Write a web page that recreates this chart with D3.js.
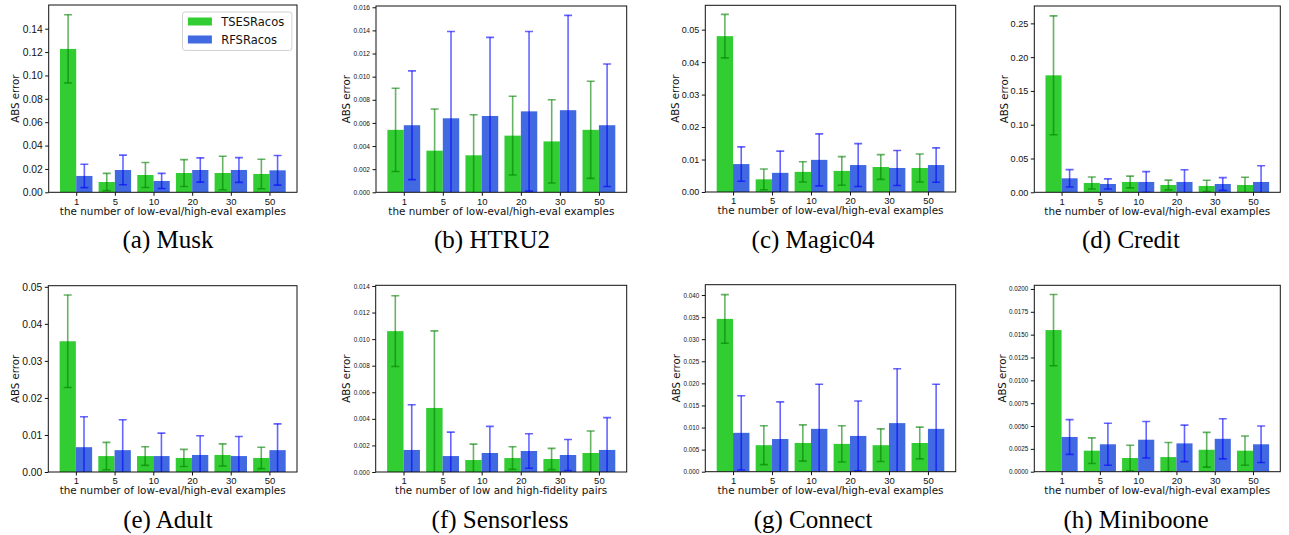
<!DOCTYPE html>
<html>
<head>
<meta charset="utf-8">
<script src="https://cdn.jsdelivr.net/npm/d3@7"></script>
<style>
  body { margin: 0; background: #fff; }
  svg { display: block; font-family: "DejaVu Sans", sans-serif; }
</style>
</head>
<body>
<svg id="chart" width="1289" height="535"></svg>
<script>
var groups = ["1", "5", "10", "20", "30", "50"];
var seriesNames = ["TSESRacos", "RFSRacos"];

// (a) Musk
var muskTSE    = [0.1227, 0.0088, 0.0148, 0.0165, 0.0165, 0.0157];
var muskTSEErr = [0.0292, 0.0074, 0.0107, 0.0115, 0.0143, 0.0126];
var muskRFS    = [0.0140, 0.0191, 0.0097, 0.0191, 0.0191, 0.0188];
var muskRFSErr = [0.0100, 0.0127, 0.0065, 0.0104, 0.0106, 0.0127];
var muskTicks  = [0, 0.02, 0.04, 0.06, 0.08, 0.10, 0.12, 0.14];

// (b) HTRU2
var htruTSE    = [0.0054, 0.0036, 0.0032, 0.0049, 0.0044, 0.0054];
var htruTSEErr = [0.0036, 0.0036, 0.0035, 0.0034, 0.0036, 0.0042];
var htruRFS    = [0.0058, 0.0064, 0.0066, 0.0070, 0.0071, 0.0058];
var htruRFSErr = [0.0047, 0.0075, 0.0068, 0.0069, 0.0082, 0.0053];
var htruTicks  = [0, 0.002, 0.004, 0.006, 0.008, 0.010, 0.012, 0.014, 0.016];

// (c) Magic04
var magicTSE    = [0.0480, 0.0039, 0.0062, 0.0065, 0.0077, 0.0074];
var magicTSEErr = [0.0067, 0.0032, 0.0031, 0.0044, 0.0038, 0.0043];
var magicRFS    = [0.0086, 0.0059, 0.0099, 0.0083, 0.0074, 0.0083];
var magicRFSErr = [0.0053, 0.0067, 0.0080, 0.0066, 0.0054, 0.0053];
var magicTicks  = [0, 0.01, 0.02, 0.03, 0.04, 0.05];

// (d) Credit
var creditTSE    = [0.1731, 0.0138, 0.0153, 0.0108, 0.0094, 0.0108];
var creditTSEErr = [0.0880, 0.0089, 0.0087, 0.0072, 0.0084, 0.0114];
var creditRFS    = [0.0207, 0.0123, 0.0153, 0.0153, 0.0123, 0.0153];
var creditRFSErr = [0.0128, 0.0075, 0.0153, 0.0180, 0.0094, 0.0240];
var creditTicks  = [0, 0.05, 0.10, 0.15, 0.20, 0.25];

// (e) Adult
var adultTSE    = [0.0353, 0.0043, 0.0043, 0.0038, 0.0046, 0.0038];
var adultTSEErr = [0.0125, 0.0037, 0.0025, 0.0023, 0.0030, 0.0029];
var adultRFS    = [0.0067, 0.0059, 0.0043, 0.0046, 0.0043, 0.0059];
var adultRFSErr = [0.0082, 0.0082, 0.0062, 0.0052, 0.0053, 0.0071];
var adultTicks  = [0, 0.01, 0.02, 0.03, 0.04, 0.05];

// (f) Sensorless
var sensTSE    = [0.0106, 0.00482, 0.0009, 0.00105, 0.00098, 0.00143];
var sensTSEErr = [0.00266, 0.0058, 0.0012, 0.00085, 0.0008, 0.00166];
var sensRFS    = [0.00166, 0.0012, 0.00143, 0.00158, 0.00128, 0.00166];
var sensRFSErr = [0.0034, 0.0018, 0.0020, 0.0013, 0.00117, 0.00243];
var sensTicks  = [0, 0.002, 0.004, 0.006, 0.008, 0.010, 0.012, 0.014];

// (g) Connect
var connTSE    = [0.0346, 0.0060, 0.0065, 0.0063, 0.0060, 0.0065];
var connTSEErr = [0.0055, 0.0044, 0.0041, 0.0041, 0.0037, 0.0036];
var connRFS    = [0.0088, 0.0074, 0.0097, 0.0081, 0.0110, 0.0097];
var connRFSErr = [0.0084, 0.0084, 0.0101, 0.0079, 0.0123, 0.0101];
var connTicks  = [0, 0.005, 0.010, 0.015, 0.020, 0.025, 0.030, 0.035, 0.040];

// (h) Miniboone
var miniTSE    = [0.0155, 0.0023, 0.0015, 0.0016, 0.0024, 0.0023];
var miniTSEErr = [0.0039, 0.0014, 0.0014, 0.0016, 0.0019, 0.0016];
var miniRFS    = [0.0038, 0.0030, 0.0035, 0.0031, 0.0036, 0.0030];
var miniRFSErr = [0.0019, 0.0023, 0.0020, 0.0020, 0.0022, 0.0020];
var miniTicks  = [0, 0.0025, 0.0050, 0.0075, 0.0100, 0.0125, 0.0150, 0.0175, 0.0200];

var xlabelEval = "the number of low-eval/high-eval examples";
var xlabelPairs = "the number of low and high-fidelity pairs";

var panels = [
  { cap: "(a) Musk", tse: muskTSE, tseErr: muskTSEErr, rfs: muskRFS, rfsErr: muskRFSErr,
    ticks: muskTicks, fmt: ".2f", ymax: 0.1603, tickFont: 10.3, xlabel: xlabelEval,
    box: [48.7, 5, 297, 192.3], capX: 168, capY: 248, legend: true },
  { cap: "(b) HTRU2", tse: htruTSE, tseErr: htruTSEErr, rfs: htruRFS, rfsErr: htruRFSErr,
    ticks: htruTicks, fmt: ".3f", ymax: 0.01611, tickFont: 6.6, xlabel: xlabelEval,
    box: [376, 6, 626.7, 192.3], capX: 492, capY: 248 },
  { cap: "(c) Magic04", tse: magicTSE, tseErr: magicTSEErr, rfs: magicRFS, rfsErr: magicRFSErr,
    ticks: magicTicks, fmt: ".2f", ymax: 0.0575, tickFont: 9, xlabel: xlabelEval,
    box: [705.3, 5.3, 955.7, 192], capX: 813, capY: 248 },
  { cap: "(d) Credit", tse: creditTSE, tseErr: creditTSEErr, rfs: creditRFS, rfsErr: creditRFSErr,
    ticks: creditTicks, fmt: ".2f", ymax: 0.2757, tickFont: 9.1, xlabel: xlabelEval,
    box: [1034.3, 6, 1280.3, 192.3], capX: 1131, capY: 248 },
  { cap: "(e) Adult", tse: adultTSE, tseErr: adultTSEErr, rfs: adultRFS, rfsErr: adultRFSErr,
    ticks: adultTicks, fmt: ".2f", ymax: 0.0503, tickFont: 10.3, xlabel: xlabelEval,
    box: [48.3, 285.7, 297, 472], capX: 168, capY: 528 },
  { cap: "(f) Sensorless", tse: sensTSE, tseErr: sensTSEErr, rfs: sensRFS, rfsErr: sensRFSErr,
    ticks: sensTicks, fmt: ".3f", ymax: 0.01405, tickFont: 6.4, xlabel: xlabelPairs,
    box: [375.7, 285.3, 626.7, 472], capX: 500, capY: 528 },
  { cap: "(g) Connect", tse: connTSE, tseErr: connTSEErr, rfs: connRFS, rfsErr: connRFSErr,
    ticks: connTicks, fmt: ".3f", ymax: 0.04234, tickFont: 6.3, xlabel: xlabelEval,
    box: [705.3, 284.7, 955.7, 471.7], capX: 813, capY: 528 },
  { cap: "(h) Miniboone", tse: miniTSE, tseErr: miniTSEErr, rfs: miniRFS, rfsErr: miniRFSErr,
    ticks: miniTicks, fmt: ".4f", ymax: 0.0204, tickFont: 6.3, xlabel: xlabelEval,
    box: [1034.3, 285.3, 1280.3, 471.7], capX: 1136, capY: 528 }
];

var barColors = ["#32cd32", "#4169e1"];
var errColors = ["#008000", "#0000ff"];
var barW = 0.42;

var svg = d3.select("#chart");
svg.append("rect").attr("width", 1289).attr("height", 535).attr("fill", "#fff");

panels.forEach(drawPanel);

function drawPanel(p) {
  var left = p.box[0], top = p.box[1], right = p.box[2], bottom = p.box[3];
  var w = right - left, h = bottom - top;
  var g = svg.append("g").attr("transform", "translate(" + left + "," + top + ")");

  var pad = (groups.length - 1 + 2 * barW) * 0.05;
  var x = d3.scaleLinear().domain([-barW - pad, groups.length - 1 + barW + pad]).range([0, w]);
  var y = d3.scaleLinear().domain([0, p.ymax]).range([h, 0]);

  var clip = "clip" + p.cap.replace(/[^a-z]/gi, "");
  g.append("clipPath").attr("id", clip).append("rect").attr("width", w).attr("height", h);
  var plot = g.append("g").attr("clip-path", "url(#" + clip + ")");

  var series = [
    { means: p.tse, errs: p.tseErr, off: -barW },
    { means: p.rfs, errs: p.rfsErr, off: 0 }
  ];

  series.forEach(function(s, si) {
    var rows = s.means.map(function(m, i) { return { i: i, m: m, e: s.errs[i] }; });
    plot.selectAll(".bar" + si).data(rows).enter().append("rect")
      .attr("x", function(d) { return x(d.i + s.off); })
      .attr("y", function(d) { return y(d.m); })
      .attr("width", x(barW) - x(0))
      .attr("height", function(d) { return y(0) - y(d.m); })
      .attr("fill", barColors[si]);

    var eb = plot.selectAll(".err" + si).data(rows).enter().append("g")
      .attr("stroke", errColors[si])
      .attr("stroke-opacity", 0.6)
      .attr("stroke-width", 1.6);
    var cx = function(d) { return x(d.i + s.off + barW / 2); };
    eb.append("line")
      .attr("x1", cx).attr("x2", cx)
      .attr("y1", function(d) { return y(d.m - d.e); })
      .attr("y2", function(d) { return y(d.m + d.e); });
    [-1, 1].forEach(function(sign) {
      eb.append("line")
        .attr("x1", function(d) { return cx(d) - 4; })
        .attr("x2", function(d) { return cx(d) + 4; })
        .attr("y1", function(d) { return y(d.m + sign * d.e); })
        .attr("y2", function(d) { return y(d.m + sign * d.e); });
    });
  });

  // axes
  var xAxis = g.append("g")
    .attr("transform", "translate(0," + h + ")")
    .call(d3.axisBottom(x).tickValues(d3.range(groups.length))
      .tickFormat(function(i) { return groups[i]; })
      .tickSize(3.5).tickPadding(2).tickSizeOuter(0));
  xAxis.select(".domain").remove();
  xAxis.selectAll("text").attr("font-size", 9.5).attr("fill", "#111");
  xAxis.selectAll("line").attr("stroke", "#111");

  var yAxis = g.append("g")
    .call(d3.axisLeft(y).tickValues(p.ticks).tickFormat(d3.format(p.fmt))
      .tickSize(3.5).tickPadding(2.5).tickSizeOuter(0));
  yAxis.select(".domain").remove();
  yAxis.selectAll("text").attr("font-size", p.tickFont).attr("fill", "#111");
  yAxis.selectAll("line").attr("stroke", "#111");

  g.append("rect")
    .attr("width", w).attr("height", h)
    .attr("fill", "none").attr("stroke", "#111").attr("stroke-width", 1);

  var labW = 0;
  yAxis.selectAll("text").each(function() { labW = Math.max(labW, this.getBBox().width); });

  g.append("text")
    .attr("transform", "translate(" + (-3.5 - 2.5 - labW - 3) + "," + (h / 2) + ") rotate(-90)")
    .attr("text-anchor", "middle")
    .attr("font-size", 10.2)
    .attr("fill", "#111")
    .text("ABS error");

  g.append("text")
    .attr("x", w / 2).attr("y", h + 22.5)
    .attr("text-anchor", "middle")
    .attr("font-size", 10.4)
    .attr("fill", "#111")
    .text(p.xlabel);

  svg.append("text")
    .attr("x", p.capX).attr("y", p.capY)
    .attr("text-anchor", "middle")
    .attr("font-family", "'Liberation Serif', 'Times New Roman', serif")
    .attr("font-size", 25)
    .attr("fill", "#000")
    .text(p.cap);

  if (p.legend) {
    var lg = g.append("g").attr("transform", "translate(" + (w - 114.5) + ",7)");
    lg.append("rect")
      .attr("width", 109.4).attr("height", 38.4).attr("rx", 2.5)
      .attr("fill", "#fff").attr("fill-opacity", 0.8)
      .attr("stroke", "#d0d0d0").attr("stroke-width", 1);
    seriesNames.forEach(function(n, i) {
      lg.append("rect")
        .attr("x", 5.4).attr("y", 5.5 + i * 18)
        .attr("width", 24).attr("height", 8)
        .attr("fill", barColors[i]);
      lg.append("text")
        .attr("x", 38.7).attr("y", 13.6 + i * 18)
        .attr("font-size", 11.5)
        .attr("fill", "#111")
        .text(n);
    });
  }
}
</script>
</body>
</html>
